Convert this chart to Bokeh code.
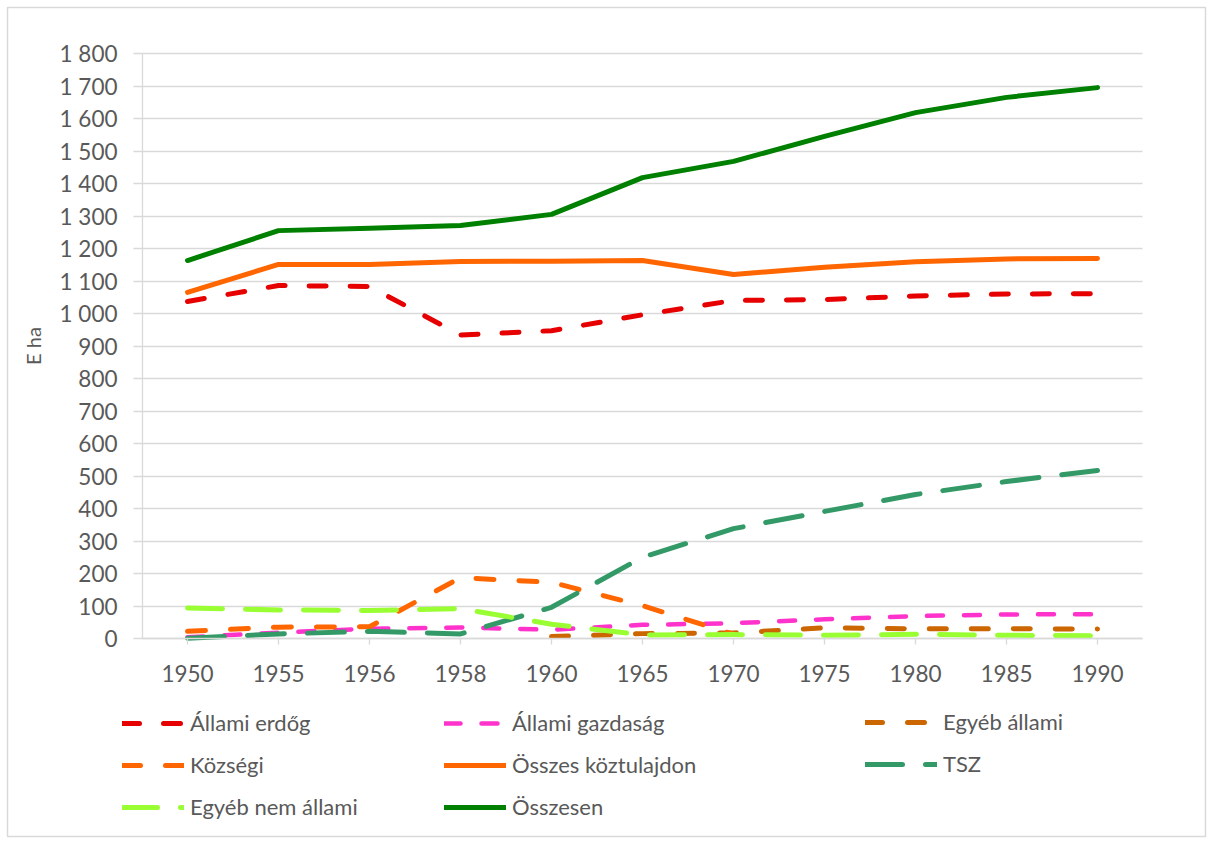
from bokeh.plotting import figure
from bokeh.models import Range1d, FixedTicker, Legend, LegendItem
from bokeh.embed import file_html
from bokeh.resources import INLINE

NaN = float("nan")

years = ["1950", "1955", "1956", "1958", "1960", "1965", "1970", "1975", "1980", "1985", "1990"]
allami_erdog = [1037, 1086, 1083, 934, 947, 996, 1040, 1043, 1054, 1060, 1061]
allami_gazdasag = [4, 18, 30, 34, 27, 42, 47, 59, 69, 74, 75]
egyeb_allami = [NaN, NaN, NaN, NaN, 6, 15, 17, 33, 30, 30, 29]
kozsegi = [22, 35, 36, 187, 173, 101, 13, NaN, NaN, NaN, NaN]
osszes_koztulajdon = [1065, 1151, 1151, 1160, 1161, 1163, 1120, 1142, 1159, 1168, 1169]
tsz = [1, 14, 22, 14, 96, 250, 338, 391, 443, 483, 517]
egyeb_nem_allami = [94, 88, 86, 92, 44, 11, 12, 10, 13, 10, 8]
osszesen = [1163, 1255, 1262, 1271, 1305, 1418, 1468, 1545, 1618, 1665, 1695]

y_ticks = [0, 100, 200, 300, 400, 500, 600, 700, 800, 900, 1000,
           1100, 1200, 1300, 1400, 1500, 1600, 1700, 1800]
y_tick_labels = ["0", "100", "200", "300", "400", "500", "600", "700", "800", "900",
                 "1 000", "1 100", "1 200", "1 300", "1 400", "1 500", "1 600",
                 "1 700", "1 800"]

FONT = "Lato"
TXT = "#595959"
GRID = "#D9D9D9"
FS = "22.5px"
LEG_FS = "22px"

# geometry (px); the frame is the whole chart box, outlined like the reference border
W, H = 1209, 840
MB_L, MB_T, MB_R, MB_B = 7, 7, 4, 4
FW, FH = W - MB_L - MB_R, H - MB_T - MB_B
PX_X = 91.0             # px per category
X0_PX = 180.0           # frame x of first category
Y_TOP_PX, Y_BOT_PX = 46.0, 631.0
ymax = y_ticks[-1]
py = (Y_BOT_PX - Y_TOP_PX) / ymax

x_idx = list(range(len(years)))
x_start = -X0_PX / PX_X
x_end = (FW - X0_PX) / PX_X
y_end = ymax + Y_TOP_PX / py
y_start = -(FH - Y_BOT_PX) / py
x_left = -0.5 * 0.989
x_right = (len(years) - 1) + 0.5 * 0.989

p = figure(width=W, height=H,
           x_range=Range1d(x_start, x_end), y_range=Range1d(y_start, y_end),
           output_backend="svg", toolbar_location=None,
           min_border_left=MB_L, min_border_right=MB_R,
           min_border_top=MB_T, min_border_bottom=MB_B)
p.outline_line_color = GRID
p.outline_line_width = 1.5
p.background_fill_color = "white"
p.border_fill_color = "white"

p.xgrid.grid_line_color = None
p.yaxis.ticker = FixedTicker(ticks=y_ticks)
p.yaxis.major_label_overrides = {t: s for t, s in zip(y_ticks, y_tick_labels)}
p.xaxis.ticker = FixedTicker(ticks=x_idx)
p.xaxis.major_label_overrides = {i: y for i, y in zip(x_idx, years)}

p.ygrid.grid_line_color = GRID
p.ygrid.grid_line_width = 1.3
p.ygrid.bounds = (0, ymax)
try:
    p.ygrid.cross_bounds = (x_left, x_right)
except Exception:
    p.ygrid.grid_line_color = None
    p.segment(x0=[x_left] * len(y_ticks), x1=[x_right] * len(y_ticks),
              y0=y_ticks, y1=y_ticks, line_color=GRID, line_width=1.3)

for ax in (p.xaxis[0], p.yaxis[0]):
    ax.axis_line_color = GRID
    ax.axis_line_width = 1.3
    ax.major_tick_line_color = GRID
    ax.major_tick_line_width = 1.3
    ax.major_tick_in = 0
    ax.minor_tick_line_color = None
    ax.major_label_text_font = FONT
    ax.major_label_text_font_size = FS
    ax.major_label_text_color = TXT

p.yaxis.fixed_location = x_left
p.yaxis.bounds = (0, ymax)
p.yaxis.major_tick_out = 9
p.yaxis.major_label_standoff = 16
p.yaxis.axis_label = "E ha"
p.yaxis.axis_label_text_font = FONT
p.yaxis.axis_label_text_font_size = "20px"
p.yaxis.axis_label_text_font_style = "normal"
p.yaxis.axis_label_text_color = TXT
p.yaxis.axis_label_standoff = 12

p.xaxis.fixed_location = 0
p.xaxis.bounds = (x_left, x_right)
p.xaxis.major_tick_out = 6
p.xaxis.major_label_standoff = 20

LW = 5
series = [
    ("Állami erdőg", allami_erdog, "#E60000", "17 24", LW),
    ("Állami gazdaság", allami_gazdasag, "#FF33CC", "16 21", 4.5),
    ("Egyéb állami", egyeb_allami, "#CC6600", "17 25", LW),
    ("Községi", kozsegi, "#FF6600", "18 25", LW),
    ("Összes köztulajdon", osszes_koztulajdon, "#FF6600", "solid", LW),
    ("TSZ", tsz, "#339966", "37 23", LW),
    ("Egyéb nem állami", egyeb_nem_allami, "#99FF33", "35 23", LW),
    ("Összesen", osszesen, "#008000", "solid", LW),
]

renderers = {}
for name, vals, col, dash, lw in series:
    r = p.line(x=x_idx, y=vals, line_color=col, line_width=lw,
               line_dash=dash, line_cap="round", line_join="round")
    renderers[name] = r

columns = [
    (["Állami erdőg", "Községi", "Egyéb nem állami"], 115, 16, 62),
    (["Állami gazdaság", "Összes köztulajdon", "Összesen"], 437, 16, 62),
    (["Egyéb állami", "TSZ"], 858, 59, 72),
]
for names, vx, vy, gw in columns:
    leg = Legend(items=[LegendItem(label=n, renderers=[renderers[n]]) for n in names],
                 location=(vx, vy), orientation="vertical",
                 glyph_width=gw, glyph_height=20, label_height=20, spacing=15,
                 label_standoff=6, padding=0, margin=0,
                 border_line_color=None, background_fill_alpha=0,
                 label_text_font=FONT, label_text_font_size=LEG_FS,
                 label_text_color=TXT)
    p.add_layout(leg)

open("out.html", "w").write(file_html(p, INLINE))
